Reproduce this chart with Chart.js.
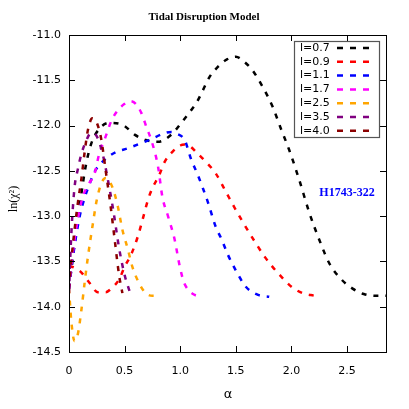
<!DOCTYPE html>
<html>
<head>
<meta charset="utf-8">
<script src="https://cdn.jsdelivr.net/npm/chart.js@4/dist/chart.umd.min.js"></script>
<style>
  body { margin: 0; background: #fff; }
  #wrap { width: 409px; height: 409px; }
</style>
</head>
<body>
<div id="wrap"><canvas id="tdChart" width="409" height="409"></canvas></div>
<script>
// values
const labels = ['l=0.7', 'l=0.9', 'l=1.1', 'l=1.7', 'l=2.5', 'l=3.5', 'l=4.0'];
const colors = ['#000000', '#ff0000', '#0000ff', '#ff00ff', '#ffa500', '#800080', '#8b0000'];

const xL07 = [0, 0.05, 0.1, 0.15, 0.2, 0.27, 0.36, 0.48, 0.59, 0.69, 0.8, 0.92, 1.01, 1.08, 1.15, 1.2, 1.26, 1.34, 1.42, 1.5, 1.57, 1.65, 1.74, 1.83, 1.91, 1.98, 2.07, 2.16, 2.25, 2.34, 2.45, 2.55, 2.65, 2.75, 2.85];
const yL07 = [-13.8, -13.3, -12.85, -12.45, -12.2, -12.04, -11.97, -11.99, -12.1, -12.16, -12.18, -12.1, -11.97, -11.86, -11.74, -11.62, -11.47, -11.35, -11.27, -11.24, -11.29, -11.39, -11.57, -11.79, -12.05, -12.27, -12.6, -12.96, -13.26, -13.52, -13.7, -13.8, -13.86, -13.88, -13.88];

const xL09 = [0, 0.05, 0.11, 0.18, 0.26, 0.33, 0.38, 0.45, 0.5, 0.56, 0.62, 0.67, 0.71, 0.75, 0.81, 0.86, 0.93, 1.0, 1.04, 1.09, 1.14, 1.23, 1.32, 1.41, 1.49, 1.56, 1.68, 1.76, 1.83, 1.91, 2.0, 2.1, 2.21];
const yL09 = [-13.55, -13.57, -13.62, -13.73, -13.84, -13.84, -13.8, -13.7, -13.56, -13.42, -13.22, -13.0, -12.82, -12.69, -12.55, -12.4, -12.29, -12.22, -12.21, -12.23, -12.29, -12.4, -12.53, -12.73, -12.91, -13.06, -13.3, -13.45, -13.56, -13.67, -13.78, -13.85, -13.88];

const xL11 = [0, 0.03, 0.06, 0.1, 0.14, 0.18, 0.23, 0.3, 0.41, 0.53, 0.72, 0.87, 0.92, 0.97, 1.04, 1.1, 1.15, 1.2, 1.25, 1.32, 1.37, 1.43, 1.5, 1.59, 1.7, 1.8];
const yL11 = [-13.8, -13.5, -13.25, -12.98, -12.8, -12.66, -12.51, -12.4, -12.3, -12.25, -12.16, -12.08, -12.07, -12.09, -12.16, -12.38, -12.52, -12.68, -12.85, -13.12, -13.25, -13.43, -13.6, -13.78, -13.87, -13.89];

const xL17 = [0, 0.03, 0.07, 0.12, 0.17, 0.23, 0.27, 0.33, 0.38, 0.44, 0.5, 0.55, 0.6, 0.65, 0.7, 0.74, 0.8, 0.84, 0.89, 0.95, 0.99, 1.03, 1.07, 1.13, 1.15];
const yL17 = [-13.8, -13.45, -13.1, -12.8, -12.66, -12.53, -12.32, -12.12, -11.95, -11.83, -11.76, -11.73, -11.76, -11.86, -12.03, -12.16, -12.45, -12.79, -13.0, -13.26, -13.52, -13.72, -13.81, -13.87, -13.88];

const xL25 = [0, 0.02, 0.05, 0.08, 0.11, 0.14, 0.17, 0.21, 0.25, 0.29, 0.33, 0.39, 0.44, 0.48, 0.53, 0.57, 0.63, 0.69, 0.75, 0.8];
const yL25 = [-13.8, -14.15, -14.38, -14.3, -14.05, -13.74, -13.45, -13.12, -12.82, -12.64, -12.58, -12.68, -12.9, -13.15, -13.37, -13.56, -13.74, -13.85, -13.88, -13.88];

const xL35 = [0, 0.01, 0.025, 0.05, 0.08, 0.11, 0.15, 0.2, 0.25, 0.3, 0.35, 0.4, 0.45, 0.5, 0.55];
const yL35 = [-13.85, -13.5, -13.1, -12.68, -12.48, -12.32, -12.18, -12.08, -12.12, -12.3, -12.6, -12.95, -13.35, -13.65, -13.85];

const xL40 = [0, 0.02, 0.05, 0.08, 0.11, 0.14, 0.17, 0.21, 0.25, 0.29, 0.33, 0.37, 0.41, 0.45, 0.48];
const yL40 = [-13.8, -13.5, -13.15, -12.85, -12.6, -12.3, -12.05, -11.92, -11.97, -12.15, -12.5, -12.85, -13.25, -13.65, -13.85];

const xTicks = [0, 0.5, 1, 1.5, 2, 2.5];
const yTicks = [-14.5, -14, -13.5, -13, -12.5, -12, -11.5, -11];

const xSeries = [xL07, xL09, xL11, xL17, xL25, xL35, xL40];
const ySeries = [yL07, yL09, yL11, yL17, yL25, yL35, yL40];

const SANS = '"DejaVu Sans", sans-serif';
const SERIF = '"Liberation Serif", "Times New Roman", serif';

const datasets = labels.map(function(lab, i) {
    return {
        label: lab,
        data: xSeries[i].map(function(x, j) { return { x: x, y: ySeries[i][j] }; }),
        borderColor: colors[i],
        borderWidth: 2.5,
        borderDash: [5, 7],
        pointRadius: 0,
        fill: false,
        cubicInterpolationMode: 'monotone',
        order: labels.length - 1 - i
    };
});

// frame, inward ticks, titles, legend box and annotation
const decor = {
    id: 'decor',
    afterDraw: function(chart) {
        const ctx = chart.ctx;
        const a = chart.chartArea;
        const xs = chart.scales.x;
        const ys = chart.scales.y;
        ctx.save();
        ctx.strokeStyle = '#000';
        ctx.lineWidth = 1;
        ctx.beginPath();
        xTicks.forEach(function(v) {
            const px = Math.round(xs.getPixelForValue(v)) + 0.5;
            ctx.moveTo(px, a.bottom); ctx.lineTo(px, a.bottom - 6);
            ctx.moveTo(px, a.top); ctx.lineTo(px, a.top + 6);
        });
        yTicks.forEach(function(v) {
            const py = Math.round(ys.getPixelForValue(v)) + 0.5;
            ctx.moveTo(a.left, py); ctx.lineTo(a.left + 6, py);
            ctx.moveTo(a.right, py); ctx.lineTo(a.right - 6, py);
        });
        ctx.stroke();
        ctx.strokeRect(Math.round(a.left) + 0.5, Math.round(a.top) + 0.5, Math.round(a.right - a.left), Math.round(a.bottom - a.top));

        // title
        ctx.fillStyle = '#000';
        ctx.textAlign = 'center';
        ctx.textBaseline = 'middle';
        ctx.font = 'bold 11px ' + SERIF;
        ctx.fillText('Tidal Disruption Model', 204, 17);

        // axis titles
        ctx.font = '13px ' + SANS;
        ctx.fillText('α', 228, 395);
        ctx.save();
        ctx.translate(14, 199);
        ctx.rotate(-Math.PI / 2);
        ctx.font = '12px ' + SERIF;
        ctx.fillText('ln(χ²)', 0, 0);
        ctx.restore();

        // annotation
        ctx.fillStyle = '#0000ff';
        ctx.font = 'bold 12px ' + SERIF;
        ctx.fillText('H1743-322', 347, 193);

        // legend
        const bx = 294, by = 41, bw = 85, bh = 96;
        ctx.fillStyle = '#fff';
        ctx.fillRect(bx, by, bw, bh);
        ctx.strokeStyle = '#555';
        ctx.lineWidth = 1.2;
        ctx.strokeRect(bx + 0.5, by + 0.5, bw, bh);
        ctx.font = '11px ' + SANS;
        ctx.textAlign = 'left';
        labels.forEach(function(lab, i) {
            const ry = 48 + i * 13.8;
            ctx.fillStyle = '#000';
            ctx.fillText(lab, 300, ry);
            ctx.strokeStyle = colors[i];
            ctx.lineWidth = 2.5;
            ctx.setLineDash([6, 7]);
            ctx.beginPath();
            ctx.moveTo(337, ry);
            ctx.lineTo(373, ry);
            ctx.stroke();
            ctx.setLineDash([]);
        });
        ctx.restore();
    }
};

new Chart(document.getElementById('tdChart'), {
    type: 'line',
    data: { datasets: datasets },
    options: {
        responsive: false,
        animation: false,
        layout: { padding: { left: 0, right: 23, top: 35, bottom: 0 } },
        plugins: {
            legend: { display: false },
            tooltip: { enabled: false },
            title: { display: false }
        },
        scales: {
            x: {
                type: 'linear',
                min: 0,
                max: 2.85,
                afterFit: function(s) { s.height = 57; },
                afterBuildTicks: function(s) { s.ticks = xTicks.map(function(v) { return { value: v }; }); },
                grid: { display: false, drawTicks: false },
                border: { display: false },
                ticks: { color: '#000', font: { family: SANS, size: 11 }, padding: 13, maxRotation: 0 }
            },
            y: {
                type: 'linear',
                min: -14.5,
                max: -11,
                afterFit: function(s) { s.width = 69; },
                afterBuildTicks: function(s) { s.ticks = yTicks.map(function(v) { return { value: v }; }); },
                grid: { display: false, drawTicks: false },
                border: { display: false },
                ticks: { color: '#000', font: { family: SANS, size: 11 }, padding: 8 }
            }
        }
    },
    plugins: [decor]
});
</script>
</body>
</html>
